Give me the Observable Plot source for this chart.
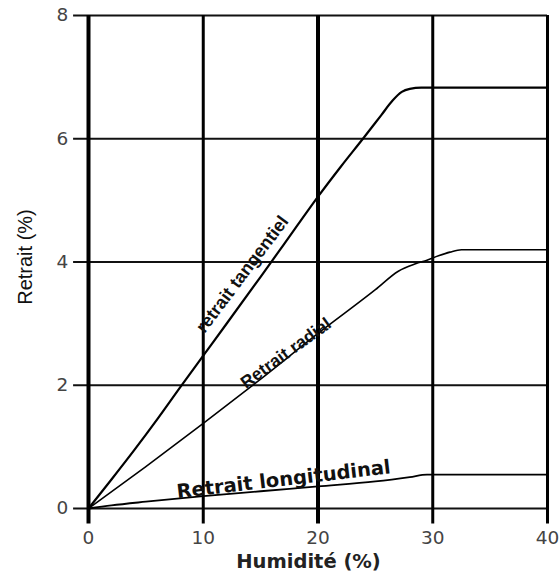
<!DOCTYPE html>
<html>
<head>
<meta charset="utf-8">
<script src="https://cdn.jsdelivr.net/npm/d3@7"></script>
<script src="https://cdn.jsdelivr.net/npm/@observablehq/plot@0.6"></script>
<style>
  html, body { margin: 0; padding: 0; background: #fff; }
</style>
</head>
<body>
<div id="chart"></div>
<script>
// Tick values
const xTicks = [0, 10, 20, 30, 40];
const yTicks = [0, 2, 4, 6, 8];

// Humidité (%) vs Retrait (%)
const tangHum = [0, 2, 4, 6, 8, 10, 12, 15, 18, 20, 22, 24, 25.5, 26.5, 27.3, 28, 29, 30, 35, 40];
const tangVal = [0, 0.47, 0.95, 1.45, 1.97, 2.48, 2.99, 3.76, 4.54, 5.06, 5.55, 6.02, 6.38, 6.62, 6.76, 6.81, 6.83, 6.83, 6.83, 6.83];

const radHum = [0, 5, 10, 15, 20, 25, 27, 28.5, 29.5, 30.5, 31.5, 32.5, 35, 40];
const radVal = [0, 0.68, 1.38, 2.1, 2.84, 3.55, 3.85, 3.97, 4.03, 4.1, 4.16, 4.2, 4.2, 4.2];

const longHum = [0, 2, 5, 10, 15, 20, 25, 28, 29.5, 30, 35, 40];
const longVal = [0, 0.05, 0.11, 0.2, 0.28, 0.36, 0.44, 0.51, 0.55, 0.55, 0.55, 0.55];

const tang = tangHum.map((h, i) => ({h, v: tangVal[i]}));
const rad = radHum.map((h, i) => ({h, v: radVal[i]}));
const lng = longHum.map((h, i) => ({h, v: longVal[i]}));

const tickFont = "DejaVu Sans, Verdana, sans-serif";
const sans = "Liberation Sans, Arial, sans-serif";

const chart = Plot.plot({
  width: 560,
  height: 574,
  marginLeft: 88,
  marginRight: 13,
  marginTop: 15,
  marginBottom: 66,
  x: {domain: [0, 40], axis: null},
  y: {domain: [0, 8], axis: null},
  marks: [
    // horizontal grid lines (extend left as ticks)
    Plot.ruleY(yTicks, {y: d => d, x1: -1.3, x2: 40, stroke: "#111", strokeWidth: 2}),
    // vertical grid lines (extend below as ticks)
    Plot.ruleX(xTicks.filter(d => d === 0 || d === 20), {x: d => d, y1: -0.25, y2: 8, stroke: "#000", strokeWidth: 4}),
    Plot.ruleX(xTicks.filter(d => d !== 0 && d !== 20), {x: d => d, y1: -0.25, y2: 8, stroke: "#000", strokeWidth: 3}),
    // curves
    Plot.line(tang, {x: "h", y: "v", stroke: "#000", strokeWidth: 2.2, curve: "monotone-x"}),
    Plot.line(rad, {x: "h", y: "v", stroke: "#000", strokeWidth: 1.6, curve: "monotone-x"}),
    Plot.line(lng, {x: "h", y: "v", stroke: "#000", strokeWidth: 1.8, curve: "monotone-x"}),
    // curve labels
    Plot.text(["retrait tangentiel"], {x: 13.4, y: 3.8, text: d => d, rotate: -53, fontSize: 18, fontWeight: "bold",
      fontFamily: sans, fill: "#111", textAnchor: "middle", lineAnchor: "middle"}),
    Plot.text(["Retrait radial"], {x: 17.2, y: 2.52, text: d => d, rotate: -36, fontSize: 17.5, fontWeight: "bold",
      fontFamily: sans, fill: "#111", textAnchor: "middle", lineAnchor: "middle"}),
    Plot.text(["Retrait longitudinal"], {x: 17, y: 0.47, text: d => d, rotate: -6.7, fontSize: 19.5, fontWeight: "bold",
      fontFamily: tickFont, fill: "#111", textAnchor: "middle", lineAnchor: "middle"}),
    // tick labels
    Plot.text(xTicks, {x: d => d, y: 0, text: d => String(d), dy: 30, fontSize: 18.5, fontFamily: tickFont,
      fill: "#444", textAnchor: "middle", lineAnchor: "middle"}),
    Plot.text(yTicks, {x: 0, y: d => d, text: d => String(d), dx: -26, fontSize: 18.5, fontFamily: tickFont,
      fill: "#444", textAnchor: "middle", lineAnchor: "middle"}),
    // axis labels
    Plot.text(["Humidité (%)"], {frameAnchor: "bottom", text: d => d, dx: -9.5, dy: 53, fontSize: 19.5, fontWeight: "bold",
      fontFamily: tickFont, fill: "#222", lineAnchor: "middle"}),
    Plot.text(["Retrait (%)"], {frameAnchor: "left", text: d => d, dx: -63, dy: -5, rotate: -90, fontSize: 20,
      fontFamily: "Liberation Sans Narrow, Liberation Sans, Arial, sans-serif", fill: "#111", textAnchor: "middle", lineAnchor: "middle"})
  ]
});

document.getElementById("chart").appendChild(chart);
</script>
</body>
</html>
